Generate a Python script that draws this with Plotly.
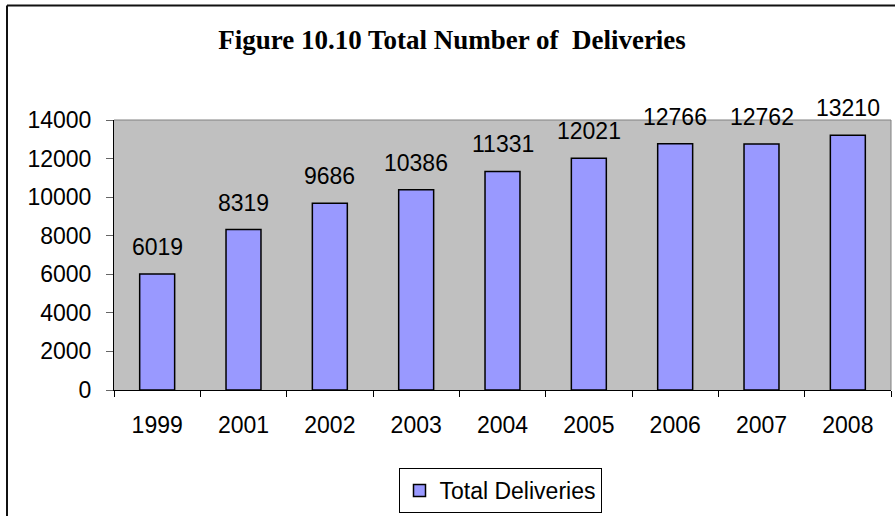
import plotly.graph_objects as go

# Total deliveries per year
years = ["1999", "2001", "2002", "2003", "2004", "2005", "2006", "2007", "2008"]
deliveries = [6019, 8319, 9686, 10386, 11331, 12021, 12766, 12762, 13210]
y_ticks = [0, 2000, 4000, 6000, 8000, 10000, 12000, 14000]

W, H = 895, 516
L, R, T, B = 114, 4, 120, 125
pw, ph = W - L - R, H - T - B
FONT = "Arial, Liberation Sans, sans-serif"

def px_x(x):
    return (x - L) / pw

def px_y(y):
    return (H - B - y) / ph

fig = go.Figure()
fig.add_trace(go.Bar(
    x=years,
    y=deliveries,
    name="Total Deliveries",
    marker=dict(color="#9999FF", line=dict(color="black", width=1.5)),
))

# value labels above each bar (category axis: position by category index)
for i, v in enumerate(deliveries):
    fig.add_annotation(
        x=i, y=v, text=str(v), showarrow=False,
        xanchor="center", yanchor="bottom", yshift=12,
        font=dict(family=FONT, size=23, color="black"),
    )

# outer chart frame (left and top edges)
fig.add_shape(type="line", xref="paper", yref="paper",
              x0=px_x(7), x1=px_x(W + 5), y0=px_y(5), y1=px_y(5),
              line=dict(color="#111111", width=2))
fig.add_shape(type="line", xref="paper", yref="paper",
              x0=px_x(7), x1=px_x(7), y0=px_y(5), y1=px_y(H + 5),
              line=dict(color="#111111", width=2))

# thin grey border on the right and top of the plot area
fig.add_shape(type="line", xref="paper", yref="paper", x0=0, x1=1, y0=1, y1=1,
              line=dict(color="#808080", width=1))
fig.add_shape(type="line", xref="paper", yref="paper", x0=1, x1=1, y0=0, y1=1,
              line=dict(color="#808080", width=1))

fig.update_layout(
    width=W, height=H,
    margin=dict(l=L, r=R, t=T, b=B),
    paper_bgcolor="white",
    plot_bgcolor="#C0C0C0",
    bargap=0.595,
    showlegend=True,
    title=dict(
        text="<b>Figure 10.10 Total Number of  Deliveries</b>",
        font=dict(family="Liberation Serif, Times New Roman, serif", size=27, color="black"),
        x=452 / W, xanchor="center", y=1 - 40 / H, yanchor="middle",
    ),
    legend=dict(
        orientation="h",
        x=px_x(500), xanchor="center",
        y=px_y(468), yanchor="top",
        bordercolor="black", borderwidth=1,
        bgcolor="white",
        font=dict(family=FONT, size=23, color="black"),
    ),
    xaxis=dict(
        type="category",
        showline=True, linecolor="black", linewidth=1,
        ticks="outside", tickson="boundaries", ticklen=6, tickcolor="black",
        tickfont=dict(family=FONT, size=23, color="black"),
        ticklabelstandoff=14,
        showgrid=False,
    ),
    yaxis=dict(
        range=[0, 14000],
        tickvals=y_ticks,
        tickformat="d",
        showline=True, linecolor="black", linewidth=1,
        ticks="outside", ticklen=7, tickcolor="#666666",
        tickfont=dict(family=FONT, size=23, color="black"),
        ticklabelstandoff=10,
        showgrid=False, zeroline=False,
    ),
)

fig.write_html("out.html")
